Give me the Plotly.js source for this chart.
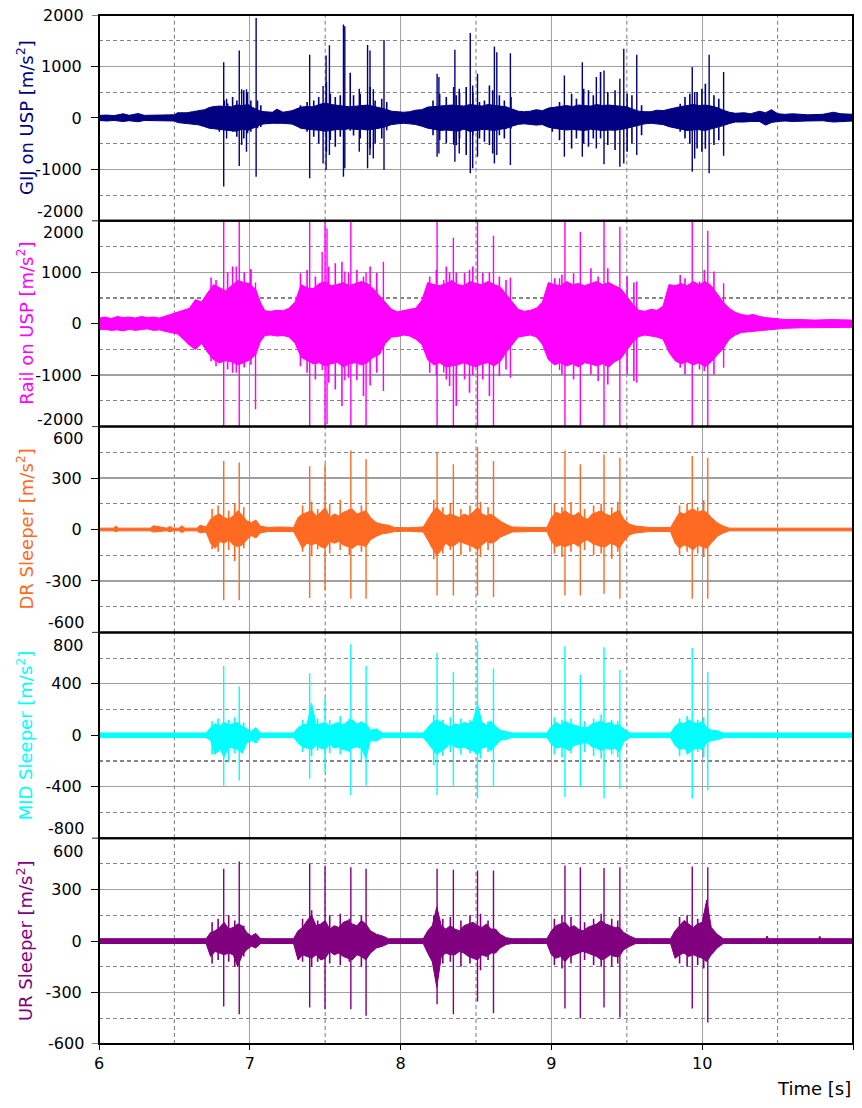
<!DOCTYPE html>
<html>
<head>
<meta charset="utf-8">
<script src="https://cdn.plot.ly/plotly-3.0.1.min.js"></script>
<style>html,body{margin:0;padding:0;background:#fff;}</style>
</head>
<body>
<div id="chart" style="width:862px;height:1108px;"></div>
<script>
// ---------------- DATA ----------------
const timeRange = [6, 11];
const xTickVals = [6, 7, 8, 9, 10, 11];
const xTickText = ['6', '7', '8', '9', '10', '11'];
const xMinorVals = [6.5, 7.5, 8.5, 9.5, 10.5];

// Panel 1: GIJ on USP — dense core envelope, minor peaks (hairs) and sharp peaks
const gijT = [
 6.00,6.05,6.10,6.16,6.20,6.26,6.30,6.40,6.50,6.52,
 6.58,6.62,6.66,6.70,6.73,6.76,6.80,6.84,6.88,6.91,
 6.95,6.99,7.02,7.05,7.07,7.10,7.15,7.18,7.22,7.28,
 7.31,7.34,7.38,7.42,7.46,7.50,7.54,7.58,7.62,7.66,
 7.70,7.74,7.78,7.82,7.86,7.90,7.94,7.98,8.02,8.06,
 8.10,8.14,8.18,8.22,8.26,8.30,8.34,8.38,8.42,8.46,
 8.50,8.54,8.58,8.62,8.66,8.70,8.74,8.78,8.82,8.86,
 8.90,8.94,8.98,9.02,9.06,9.10,9.14,9.18,9.22,9.26,
 9.30,9.34,9.38,9.42,9.46,9.50,9.54,9.58,9.62,9.66,
 9.70,9.74,9.78,9.82,9.86,9.90,9.94,9.98,10.02,10.06,
 10.10,10.14,10.18,10.22,10.28,10.32,10.38,10.42,10.46,10.50,
 10.55,10.60,10.70,10.80,10.87,10.92,11.00];
const gijHi = [
 50,55,45,80,50,85,50,55,60,100,
 100,120,140,160,200,220,230,225,215,250,
 240,260,200,160,130,120,110,170,110,140,
 170,210,220,215,260,290,260,240,230,215,
 230,240,250,225,200,170,130,120,110,120,
 150,160,210,220,230,240,250,240,230,260,
 240,230,260,250,230,215,170,130,120,130,
 160,140,190,210,230,240,220,250,240,230,
 260,240,250,240,230,215,170,130,120,120,
 150,140,170,200,220,240,260,240,250,230,
 200,150,110,90,100,80,130,100,160,80,
 70,80,60,70,110,80,70];
const gijLo = [
 -50,-60,-50,-70,-55,-75,-50,-55,-60,-90,
 -110,-115,-135,-170,-200,-210,-220,-230,-240,-260,
 -220,-240,-200,-170,-130,-115,-105,-100,-105,-120,
 -160,-200,-220,-225,-240,-260,-240,-225,-230,-210,
 -225,-220,-235,-220,-200,-170,-130,-115,-105,-115,
 -130,-160,-200,-220,-245,-235,-245,-255,-220,-265,
 -245,-225,-230,-245,-220,-205,-160,-125,-115,-125,
 -140,-130,-180,-205,-220,-235,-225,-235,-245,-220,
 -230,-245,-235,-240,-225,-205,-170,-135,-115,-105,
 -120,-130,-170,-200,-220,-245,-235,-230,-245,-215,
 -190,-150,-110,-80,-80,-70,-70,-140,-90,-70,
 -60,-70,-60,-55,-80,-70,-60];
const gijHairT = [
 6.743,6.798,6.831,6.853,6.886,6.914,6.960,6.985,7.007,7.051,7.073,
 7.336,7.380,7.424,7.457,7.508,7.534,7.567,7.600,7.666,7.688,7.732,7.798,7.831,7.875,7.908,
 8.215,8.259,8.303,8.352,8.369,8.391,8.435,8.479,8.523,8.556,8.589,8.611,8.655,8.688,8.732,
 9.006,9.054,9.134,9.166,9.214,9.246,9.278,9.326,9.374,9.422,9.502,9.534,9.598,
 9.854,9.886,9.918,9.966,9.998,10.021,10.078,10.110];
const gijHairHi = [
 200,215,340,280,406,340,535,500,340,340,245,
 245,310,340,406,697,470,406,440,877,440,470,600,340,370,310,
 340,470,406,600,440,500,600,500,310,340,632,535,440,340,406,
 213,310,471,374,568,535,439,890,503,535,471,439,245,
 277,406,471,503,568,665,439,374];
const gijHairLo = [
 -210,-270,-240,-240,-271,-368,-400,-300,-270,-200,-175,
 -206,-270,-368,-497,-658,-430,-561,-368,-250,-340,-400,-594,-497,-400,-240,
 -335,-430,-497,-520,-530,-400,-720,-335,-400,-465,-529,-690,-335,-400,-206,
 -271,-432,-594,-400,-497,-561,-400,-400,-529,-626,-658,-497,-335,
 -271,-400,-497,-594,-658,-600,-529,-432];
const gijPeakT = [
 6.827,6.846,6.930,6.946,6.978,7.042,7.397,7.486,7.506,7.528,
 7.621,7.630,7.726,7.781,7.797,7.819,7.890,8.242,8.254,8.360,
 8.389,8.462,8.478,8.510,8.622,8.638,8.728,9.086,9.205,9.298,
 9.349,9.454,9.480,9.566,9.934,9.950,10.046,10.142];
const gijPeakHi = [
 1084,374,1310,555,555,1942,1226,619,1213,1413,
 1813,1781,568,1419,1310,555,1516,858,794,1323,
 568,1652,632,858,1387,1277,1258,826,1084,794,
 923,761,1342,1226,987,503,1226,890];
const gijPeakLo = [
 -1335,-400,-935,-529,-658,-1142,-1174,-884,-1013,-723,
 -1142,-981,-658,-981,-723,-787,-1013,-755,-690,-852,
 -690,-1077,-981,-755,-884,-723,-916,-755,-755,-594,
 -903,-948,-884,-723,-1045,-787,-1077,-736];
const gijTickVals = [-2000, -1000, 0, 1000, 2000];
const gijTickText = ['-2000', '-1000', '0', '1000', '2000'];
const gijMinorVals = [-1500, -500, 500, 1500];

// Panel 2: Rail on USP
const railT = [
 6.00,6.04,6.08,6.12,6.16,6.20,6.24,6.28,6.32,6.36,
 6.40,6.44,6.48,6.52,6.56,6.60,6.64,6.68,6.72,6.76,
 6.80,6.84,6.88,6.92,6.96,7.00,7.04,7.07,7.10,7.14,
 7.18,7.22,7.26,7.30,7.34,7.38,7.42,7.46,7.50,7.54,
 7.58,7.62,7.66,7.70,7.74,7.78,7.82,7.86,7.90,7.94,
 7.98,8.02,8.06,8.10,8.14,8.18,8.22,8.26,8.30,8.34,
 8.38,8.42,8.46,8.50,8.54,8.58,8.62,8.66,8.70,8.74,
 8.78,8.82,8.86,8.90,8.94,8.98,9.02,9.06,9.10,9.14,
 9.18,9.22,9.26,9.30,9.34,9.38,9.42,9.46,9.50,9.54,
 9.58,9.62,9.66,9.70,9.74,9.78,9.82,9.86,9.90,9.94,
 9.98,10.02,10.06,10.10,10.14,10.18,10.22,10.26,10.30,10.34,
 10.38,10.42,10.48,10.55,10.65,10.75,10.85,11.00];
const railHi = [
 110,130,100,140,120,130,110,140,120,130,
 110,150,180,230,260,300,470,420,600,760,
 700,640,740,840,800,780,660,420,250,240,
 260,250,300,420,760,700,680,780,820,740,
 760,800,740,780,820,780,680,540,400,280,
 230,260,280,300,450,800,760,740,780,840,
 760,740,820,780,760,820,760,720,580,420,
 280,240,260,300,420,800,760,740,820,760,
 780,740,780,820,760,800,740,680,540,380,
 260,240,280,260,340,760,740,780,740,820,
 760,820,740,580,420,300,220,180,160,180,
 140,120,100,80,80,70,80,70];
const railLo = [
 -120,-110,-130,-120,-140,-110,-130,-120,-100,-130,
 -120,-150,-170,-200,-300,-420,-500,-380,-560,-700,
 -760,-720,-740,-800,-760,-700,-600,-350,-230,-220,
 -240,-230,-260,-380,-650,-720,-780,-760,-820,-780,
 -750,-840,-780,-760,-800,-760,-650,-600,-380,-260,
 -250,-220,-240,-300,-400,-700,-800,-760,-840,-820,
 -800,-760,-800,-840,-780,-760,-820,-740,-560,-400,
 -260,-240,-220,-260,-400,-700,-800,-760,-820,-780,
 -840,-760,-780,-820,-780,-840,-740,-680,-520,-360,
 -250,-220,-240,-260,-300,-560,-720,-780,-740,-800,
 -760,-840,-740,-620,-480,-300,-220,-170,-160,-150,
 -140,-120,-100,-90,-80,-80,-70,-70];
const railHairT = [
 6.743,6.776,6.853,6.886,6.963,7.007,
 7.336,7.380,7.435,7.523,7.567,7.611,7.655,7.710,7.754,7.798,7.842,
 8.193,8.237,8.303,8.325,8.369,8.424,8.457,8.479,8.545,8.589,8.655,8.699,
 9.022,9.070,9.147,9.262,9.310,9.374,9.502,9.547,
 9.854,9.886,9.982,10.014,10.078];
const railHairHi = [
 900,850,1000,1110,1000,1045,
 980,1045,916,1110,1174,1206,990,1045,916,1110,990,
 916,1045,1110,1000,1000,990,1045,1110,990,1000,916,850,
 884,950,980,1077,916,1077,916,800,
 948,884,820,1045,1013];
const railHairLo = [
 -729,-826,-890,-955,-850,-800,
 -826,-955,-1084,-1148,-1277,-1600,-1050,-1100,-1406,-1200,-955,
 -955,-1000,-1084,-1213,-1600,-1084,-1342,-1000,-1084,-1406,-1020,-890,
 -793,-987,-1084,-987,-1116,-1180,-987,-1116,
 -858,-987,-890,-922,-987];
const railPeakT = [
 6.827,6.910,6.930,7.006,7.038,7.397,7.480,7.499,7.512,7.630,
 7.670,7.771,7.886,8.242,8.286,8.350,8.510,8.616,8.728,9.054,
 9.090,9.192,9.349,9.454,9.566,9.934,10.037,10.142];
const railPeakHi = [
 2050,1110,2050,1065,800,2050,1400,2050,1850,1013,
 2050,1000,1206,2050,850,1671,2050,1710,897,884,
 2050,1787,2050,1884,820,2050,1806,787];
const railPeakLo = [
 -2050,-955,-2050,-700,-1665,-2050,-900,-2050,-1955,-1100,
 -2050,-2050,-1310,-2050,-950,-2050,-2050,-2050,-1052,-900,
 -2050,-2050,-2050,-2050,-1148,-2050,-2050,-858];
const railTickVals = [-2000, -1000, 0, 1000, 2000];
const railTickText = ['-2000', '-1000', '0', '1000', '2000'];
const railMinorVals = [-1500, -500, 500, 1500];

// Sleeper panels share the axle-passage times
const axleTimes = [6.827,6.930,7.397,7.499,7.670,7.771,8.242,8.350,8.510,8.616,9.090,9.192,9.349,9.454,9.934,10.037];
const sleeperT = [
 6.00,6.10,6.11,6.13,6.30,6.34,6.36,6.45,6.47,6.49,
 6.53,6.55,6.57,6.65,6.67,6.71,6.74,6.77,6.80,6.83,
 6.86,6.89,6.92,6.95,6.98,7.01,7.04,7.07,7.12,7.20,
 7.29,7.32,7.35,7.38,7.41,7.44,7.47,7.50,7.53,7.56,
 7.59,7.62,7.65,7.68,7.71,7.74,7.77,7.80,7.84,7.88,
 7.92,7.96,8.05,8.15,8.18,8.21,8.24,8.27,8.30,8.33,
 8.36,8.39,8.42,8.45,8.48,8.51,8.54,8.57,8.60,8.63,
 8.66,8.70,8.74,8.85,8.97,9.00,9.03,9.06,9.09,9.12,
 9.15,9.18,9.21,9.24,9.27,9.30,9.33,9.36,9.39,9.42,
 9.45,9.48,9.52,9.56,9.65,9.79,9.82,9.85,9.88,9.91,
 9.94,9.97,10.00,10.03,10.06,10.10,10.14,10.18,10.42,10.43,
 10.44,10.77,10.78,10.79,11.00];
const sleeperHairT = [
 6.75,6.79,6.86,6.90,6.96,
 7.35,7.41,7.45,7.53,7.60,7.66,7.74,
 8.22,8.28,8.33,8.40,8.46,8.53,8.58,
 9.02,9.07,9.13,9.22,9.28,9.33,9.40,9.44,
 9.85,9.90,9.97,10.01];

// Panel 3: DR Sleeper
const drHi = [
 8,8,20,8,8,8,22,8,18,8,
 8,22,8,8,25,15,60,80,90,70,
 60,80,110,85,50,40,55,20,12,15,
 12,70,90,100,110,80,100,130,70,90,
 80,100,110,120,90,100,110,70,40,30,
 25,12,10,15,60,100,130,100,80,90,
 80,70,90,80,100,130,90,80,90,70,
 50,30,15,12,12,70,100,90,110,90,
 80,100,70,60,90,100,110,90,80,100,
 110,60,30,20,12,12,60,100,90,110,
 120,100,110,100,70,40,20,8,8,8,
 8,8,8,8,8];
const drLo = [
 -8,-8,-14,-8,-8,-8,-15,-8,-14,-8,
 -8,-18,-8,-8,-20,-15,-80,-110,-70,-80,
 -60,-90,-100,-90,-60,-35,-50,-20,-12,-12,
 -12,-60,-110,-80,-90,-80,-100,-110,-70,-80,
 -70,-90,-100,-110,-90,-90,-100,-60,-40,-25,
 -20,-12,-10,-15,-60,-110,-150,-120,-80,-100,
 -90,-70,-80,-90,-100,-120,-90,-70,-80,-70,
 -45,-30,-15,-12,-12,-70,-100,-90,-100,-90,
 -80,-100,-70,-60,-80,-90,-100,-100,-80,-90,
 -110,-70,-30,-20,-12,-12,-80,-110,-90,-100,
 -120,-90,-100,-110,-80,-40,-20,-8,-8,-8,
 -8,-8,-8,-8,-8];
const drHairHi = [120,140,110,150,130, 140,163,120,150,173,120,140, 173,130,150,120,140,160,130, 150,130,160,120,140,150,130,160, 140,150,130,170];
const drHairLo = [-115,-130,-120,-183,-110, -130,-150,-115,-140,-120,-150,-130, -173,-140,-120,-150,-130,-160,-120, -140,-160,-130,-120,-150,-140,-170,-130, -150,-130,-140,-160];
const drPeakHi = [400,390,369,381,461,410,446,381,481,400,461,381,438,419,429,419];
const drPeakLo = [-413,-413,-400,-356,-404,-404,-385,-385,-385,-394,-385,-385,-375,-404,-404,-404];
const drTickVals = [-600, -300, 0, 300, 600];
const drTickText = ['-600', '-300', '0', '300', '600'];
const drMinorVals = [-450, -150, 150, 450];

// Panel 4: MID Sleeper
const midHi = [
 18,18,18,18,18,18,18,18,18,18,
 18,18,18,18,18,18,60,90,70,100,
 80,90,100,70,50,30,60,18,18,18,
 18,60,80,90,250,80,90,100,70,90,
 100,80,110,120,90,100,90,40,50,18,
 18,18,18,18,60,100,120,100,80,60,
 90,80,100,90,110,240,100,80,110,70,
 40,30,18,18,18,70,100,80,110,90,
 80,70,60,60,90,100,110,90,100,80,
 80,50,18,18,18,18,70,100,90,120,
 100,90,110,60,40,35,18,18,18,18,
 18,18,18,18,18];
const midLo = [
 -18,-18,-18,-18,-18,-18,-18,-18,-18,-18,
 -18,-18,-18,-18,-18,-18,-40,-150,-100,-170,
 -90,-100,-110,-140,-60,-40,-60,-18,-18,-18,
 -18,-60,-90,-100,-110,-80,-100,-110,-70,-100,
 -90,-110,-120,-100,-90,-100,-180,-40,-45,-18,
 -18,-18,-18,-18,-60,-110,-150,-120,-100,-60,
 -90,-100,-90,-110,-120,-150,-100,-90,-120,-80,
 -40,-30,-18,-18,-18,-70,-100,-90,-100,-120,
 -80,-70,-60,-60,-90,-100,-120,-100,-110,-100,
 -130,-50,-18,-18,-18,-18,-80,-110,-100,-140,
 -110,-100,-110,-60,-40,-35,-18,-18,-18,-18,
 -18,-18,-18,-18,-18];
const midHairHi = [110,130,120,140,100, 120,140,130,120,150,130,110, 160,120,140,130,120,150,110, 140,120,130,110,130,160,120,110, 130,150,120,140];
const midHairLo = [-150,-130,-200,-140,-110, -130,-160,-120,-140,-150,-130,-200, -230,-160,-130,-150,-140,-180,-130, -150,-170,-140,-130,-160,-180,-150,-170, -160,-150,-130,-170];
const midPeakHi = [538,379,482,290,708,538,641,495,733,520,692,469,685,508,679,495];
const midPeakLo = [-390,-351,-338,-287,-467,-390,-467,-390,-492,-402,-480,-402,-492,-415,-492,-428];
const midTickVals = [-800, -400, 0, 400, 800];
const midTickText = ['-800', '-400', '0', '400', '800'];
const midMinorVals = [-600, -200, 200, 600];

// Panel 5: UR Sleeper
const urHi = [
 14,14,14,14,14,14,14,14,14,14,
 14,14,14,14,14,14,50,60,80,110,
 70,80,100,90,50,30,45,15,14,14,
 14,60,80,120,150,90,100,120,70,90,
 80,110,120,100,90,120,100,60,40,30,
 14,14,14,14,60,90,200,90,70,90,
 70,60,90,100,110,90,80,100,70,70,
 40,20,14,14,14,60,90,100,110,80,
 90,70,60,80,90,100,120,100,90,80,
 80,50,30,14,14,14,60,90,120,100,
 80,100,110,240,80,40,14,14,14,30,
 14,14,28,14,14];
const urLo = [
 -14,-14,-14,-14,-14,-14,-14,-14,-14,-14,
 -14,-14,-14,-14,-14,-14,-90,-60,-70,-80,
 -70,-80,-150,-80,-50,-30,-40,-15,-14,-14,
 -14,-110,-80,-90,-100,-80,-110,-100,-60,-80,
 -70,-90,-100,-110,-80,-90,-110,-70,-40,-30,
 -14,-14,-14,-14,-70,-120,-270,-90,-70,-80,
 -80,-60,-70,-90,-100,-110,-80,-90,-70,-70,
 -40,-20,-14,-14,-14,-80,-100,-90,-120,-90,
 -80,-70,-60,-70,-80,-90,-110,-100,-80,-90,
 -90,-50,-30,-14,-14,-14,-100,-80,-70,-90,
 -80,-90,-100,-120,-80,-40,-14,-14,-14,-14,
 -14,-14,-14,-14,-14];
const urHairHi = [110,130,150,120,90, 130,180,120,150,160,130,150, 150,130,140,120,150,160,120, 130,150,140,110,130,160,130,120, 140,150,130,160];
const urHairLo = [-130,-110,-120,-150,-90, -120,-150,-120,-130,-140,-120,-150, -160,-130,-120,-150,-130,-170,-110, -140,-160,-130,-110,-140,-150,-150,-130, -130,-150,-140,-160];
const urPeakHi = [422,464,451,435,431,422,422,416,412,412,441,431,426,431,435,431];
const urPeakLo = [-381,-426,-387,-397,-397,-435,-368,-426,-352,-420,-393,-451,-387,-445,-393,-474];
const urTickVals = [-600, -300, 0, 300, 600];
const urTickText = ['-600', '-300', '0', '300', '600'];
const urMinorVals = [-450, -150, 150, 450];

const axisTitles = [
 'GIJ on USP [m/s<sup>2</sup>]',
 'Rail on USP [m/s<sup>2</sup>]',
 'DR Sleeper [m/s<sup>2</sup>]',
 'MID Sleeper [m/s<sup>2</sup>]',
 'UR Sleeper [m/s<sup>2</sup>]'];
const xTitle = 'Time [s]';

// ---------------- PANEL SETUP (styles) ----------------
const panels = [
 {title: axisTitles[0], color: '#000080', t: gijT, hi: gijHi, lo: gijLo,
  ht: gijHairT, hh: gijHairHi, hl: gijHairLo, pt: gijPeakT, ph: gijPeakHi, pl: gijPeakLo,
  tv: gijTickVals, tt: gijTickText, mv: gijMinorVals, topShift: 0, botShift: 9, clip: true},
 {title: axisTitles[1], color: '#ff00ff', t: railT, hi: railHi, lo: railLo,
  ht: railHairT, hh: railHairHi, hl: railHairLo, pt: railPeakT, ph: railPeakHi, pl: railPeakLo,
  tv: railTickVals, tt: railTickText, mv: railMinorVals, topShift: -12, botShift: 7, clip: false},
 {title: axisTitles[2], color: '#ff6a22', t: sleeperT, hi: drHi, lo: drLo,
  ht: sleeperHairT, hh: drHairHi, hl: drHairLo, pt: axleTimes, ph: drPeakHi, pl: drPeakLo,
  tv: drTickVals, tt: drTickText, mv: drMinorVals, topShift: -12, botShift: 10, clip: true},
 {title: axisTitles[3], color: '#00ffff', t: sleeperT, hi: midHi, lo: midLo,
  ht: sleeperHairT, hh: midHairHi, hl: midHairLo, pt: axleTimes, ph: midPeakHi, pl: midPeakLo,
  tv: midTickVals, tt: midTickText, mv: midMinorVals, topShift: -13, botShift: 10, clip: true},
 {title: axisTitles[4], color: '#800080', t: sleeperT, hi: urHi, lo: urLo,
  ht: sleeperHairT, hh: urHairHi, hl: urHairLo, pt: axleTimes, ph: urPeakHi, pl: urPeakLo,
  tv: urTickVals, tt: urTickText, mv: urMinorVals, topShift: -13, botShift: 1, clip: true}
];

const FONT = 'DejaVu Sans, Verdana, sans-serif';
const GRID = '#a0a0a0';
const MINOR = '#858585';
const DASH = '4px,3px';
const N = panels.length;

function strokes(ts, his, los) {
  const x = [], y = [];
  ts.forEach((t, j) => { x.push(t, t, null); y.push(his[j], los[j], null); });
  return {x, y};
}

const traces = [];
const annotations = [];
const shapes = [];
const layout = {
  width: 862, height: 1108,
  margin: {l: 99, r: 9, t: 15, b: 64, pad: 0},
  paper_bgcolor: '#ffffff', plot_bgcolor: '#ffffff',
  showlegend: false, hovermode: false,
  font: {family: FONT, size: 16, color: '#000'},
  xaxis: {
    range: timeRange, anchor: 'y' + N, tickmode: 'array', tickvals: xTickVals, ticktext: xTickText,
    ticks: 'outside', ticklen: 5, tickwidth: 1, tickcolor: '#000',
    showgrid: true, gridcolor: GRID, gridwidth: 1.3, zeroline: false, showline: false,
    tickfont: {family: FONT, size: 16, color: '#000'}, fixedrange: true
  }
};

panels.forEach((p, i) => {
  const k = i + 1;
  const ya = 'y' + (k === 1 ? '' : k);
  const top = 1 - i / N, bot = 1 - (i + 1) / N;
  const vMin = p.tv[0], vMax = p.tv[p.tv.length - 1];
  // dense core: upper edge, then lower edge filled up to it
  traces.push({x: p.t, y: p.hi, xaxis: 'x', yaxis: ya, mode: 'lines', type: 'scatter',
    line: {color: p.color, width: 1}, hoverinfo: 'skip'});
  traces.push({x: p.t, y: p.lo, xaxis: 'x', yaxis: ya, mode: 'lines', type: 'scatter',
    line: {color: p.color, width: 1}, fill: 'tonexty', fillcolor: p.color, hoverinfo: 'skip'});
  // minor peaks
  const h = strokes(p.ht, p.hh, p.hl);
  traces.push({x: h.x, y: h.y, xaxis: 'x', yaxis: ya, mode: 'lines', type: 'scatter',
    line: {color: p.color, width: 1.6}, connectgaps: false, hoverinfo: 'skip'});
  // sharp peaks
  const s = strokes(p.pt, p.ph, p.pl);
  traces.push({x: s.x, y: s.y, xaxis: 'x', yaxis: ya, mode: 'lines', type: 'scatter',
    line: {color: p.color, width: 1.4}, connectgaps: false, cliponaxis: p.clip, hoverinfo: 'skip'});

  layout['yaxis' + (k === 1 ? '' : k)] = {
    domain: [bot, top], range: [vMin, vMax], anchor: 'x',
    tickmode: 'array', tickvals: p.tv.slice(1, -1), ticktext: p.tt.slice(1, -1),
    ticks: 'outside', ticklen: 7, tickwidth: 1, tickcolor: '#000', ticklabelstandoff: 6,
    showgrid: true, gridcolor: GRID, gridwidth: 1.3, zeroline: false, showline: false,
    minor: {tickmode: 'array', tickvals: p.mv, showgrid: true, gridcolor: MINOR, gridwidth: 1.1, griddash: DASH, ticks: ''},
    tickfont: {family: FONT, size: 16, color: '#000'}, fixedrange: true
  };
  // dashed half-second grid lines inside this panel
  xMinorVals.forEach(v => {
    shapes.push({type: 'line', xref: 'x', yref: 'paper', x0: v, x1: v, y0: bot, y1: top,
      line: {color: MINOR, width: 1.1, dash: DASH}, layer: 'below'});
  });
  // edge tick labels (nudged inward like the reference) and their tick marks
  [[vMax, p.tt[p.tt.length - 1], p.topShift], [vMin, p.tt[0], p.botShift]].forEach(([v, txt, sh]) => {
    annotations.push({xref: 'paper', yref: ya, x: 0, y: v, text: txt,
      xanchor: 'right', yanchor: 'middle', xshift: -13, yshift: sh, showarrow: false,
      font: {family: FONT, size: 16, color: '#000'}});
    shapes.push({type: 'line', xref: 'paper', yref: ya, xsizemode: 'pixel', xanchor: 0, x0: -7, x1: 0,
      y0: v, y1: v, line: {color: '#000', width: 1}});
  });
  // axis title
  annotations.push({xref: 'paper', yref: 'paper', x: 0, y: (top + bot) / 2, text: p.title, textangle: -90,
    xanchor: 'center', yanchor: 'middle', xshift: -74, showarrow: false,
    font: {family: FONT, size: 18, color: p.color}});
  // panel frame
  shapes.push({type: 'rect', xref: 'paper', yref: 'paper', x0: 0, x1: 1, y0: bot, y1: top,
    line: {color: '#000', width: 2}, fillcolor: 'rgba(0,0,0,0)', layer: 'above'});
});

annotations.push({xref: 'paper', yref: 'paper', x: 1, y: 0, text: xTitle, xanchor: 'right', yanchor: 'middle',
  yshift: -44, showarrow: false, font: {family: FONT, size: 18, color: '#000'}});

layout.annotations = annotations;
layout.shapes = shapes;

Plotly.newPlot('chart', traces, layout, {staticPlot: true, displayModeBar: false});
</script>
</body>
</html>
